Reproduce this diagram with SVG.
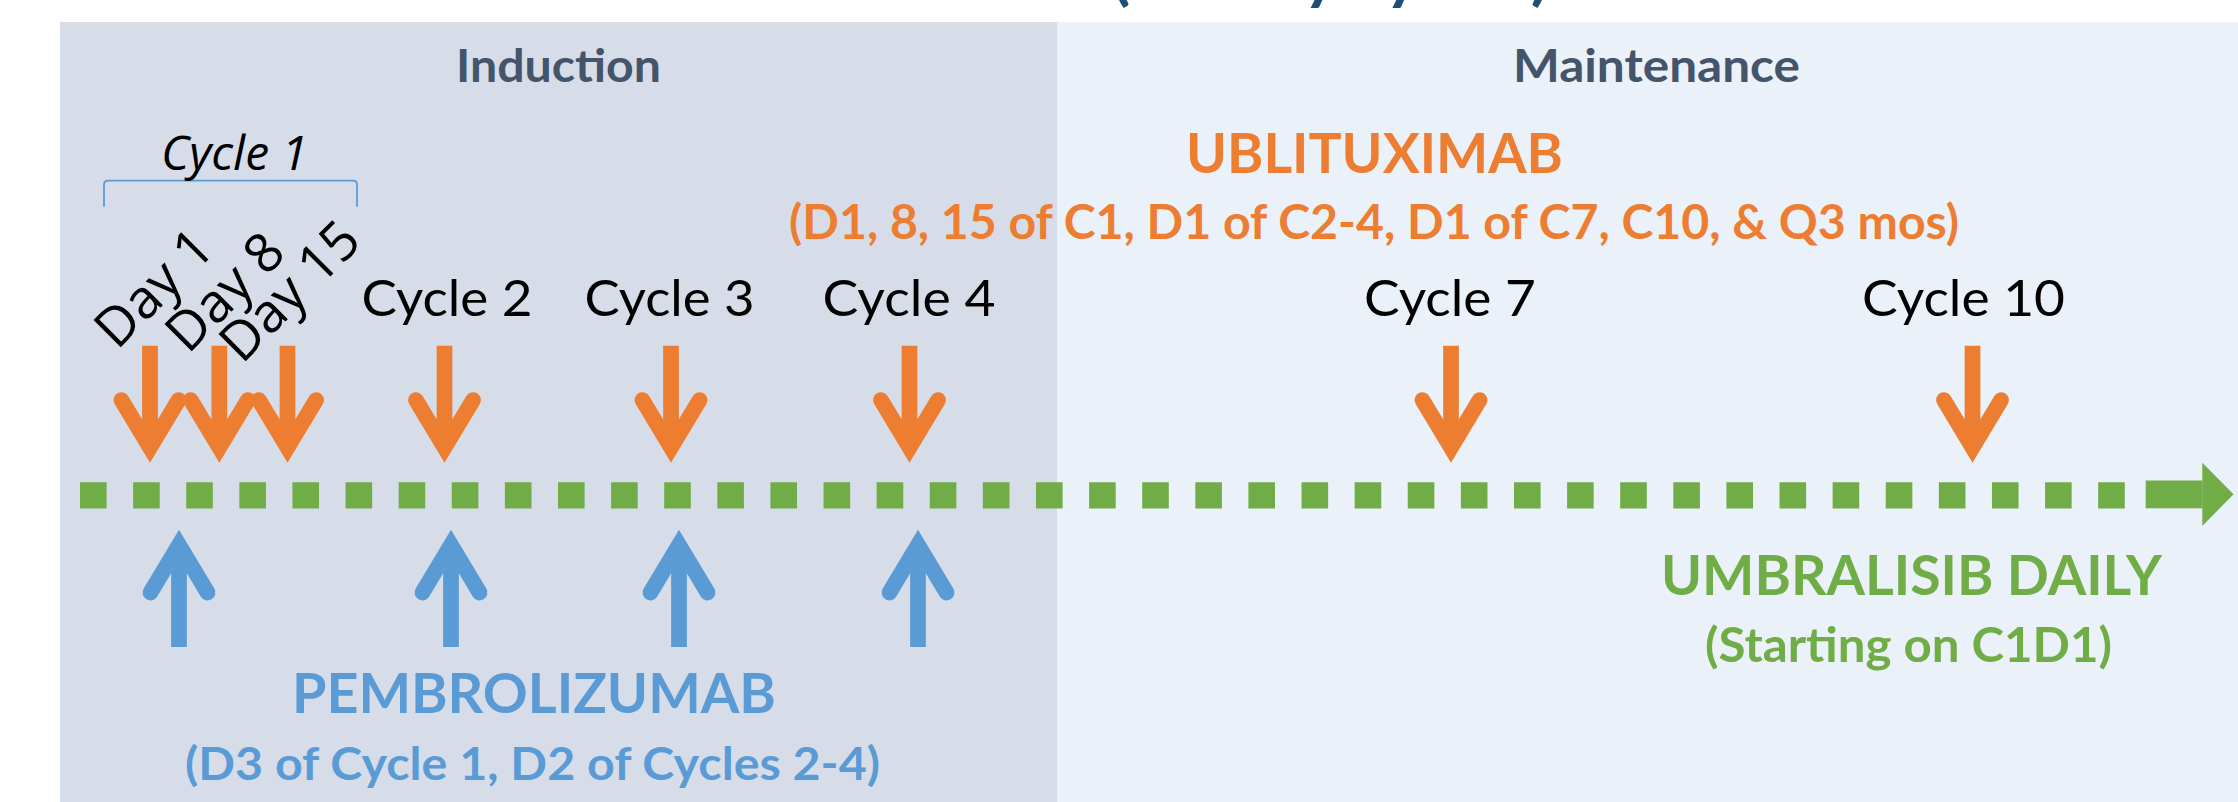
<svg xmlns="http://www.w3.org/2000/svg" xmlns:xlink="http://www.w3.org/1999/xlink" width="2238" height="802" viewBox="0 0 2238 802">
<style>
.lato{font-family:Lato,"Liberation Sans",sans-serif}
.os{font-family:"Open Sans","Liberation Sans",sans-serif}
.b{font-weight:bold}
.phase{font-size:45px;fill:#44546A;font-weight:bold}
.cyc{font-size:51px;fill:#000}
.day{font-size:54px;fill:#000}
.or{fill:#ED7D31}
.bl{fill:#5B9BD5}
.gr{fill:#70AD47}
.arrowOr{stroke:#ED7D31;stroke-width:15.7;fill:none}
.arrowBl{stroke:#5B9BD5;stroke-width:15.7;fill:none}
</style>
<defs>
<g id="arw">
<line x1="0" y1="-117.6" x2="0" y2="-15.7" stroke-linecap="butt"/>
<polyline points="-28.6,-63.3 0,-15.7 28.6,-63.3" stroke-linecap="round" stroke-linejoin="miter" stroke-miterlimit="4"/>
</g>
</defs>
<rect x="0" y="0" width="2238" height="802" fill="#FFFFFF"/>
<g id="panel-induction">
<rect x="60" y="22" width="997" height="780" fill="#D6DDE9"/>
<text class="lato phase" x="456" y="81.7" textLength="205" lengthAdjust="spacingAndGlyphs">Induction</text>
</g>
<g id="panel-maintenance">
<rect x="1057" y="22" width="1181" height="780" fill="#EAF1F9"/>
<text class="lato phase" x="1513" y="81.7" textLength="287" lengthAdjust="spacingAndGlyphs">Maintenance</text>
</g>
<g id="title-fragment">
<text class="lato b" x="1112" y="-2" font-size="64" fill="#1F4E79" textLength="437" lengthAdjust="spacingAndGlyphs">(28-day cycles)</text>
</g>
<g id="cycle1-bracket">
<path d="M104,206.7 V184.7 Q104,180.7 108,180.7 H353 Q357,180.7 357,184.7 V206.7" fill="none" stroke="#5B9BD5" stroke-width="1.8"/>
<text class="os" x="161" y="170" font-size="48" font-style="italic" fill="#000" textLength="147" lengthAdjust="spacingAndGlyphs">Cycle 1</text>
</g>
<g id="day-labels">
<text class="os day" transform="translate(117,351) rotate(-45)">Day 1</text>
<text class="os day" transform="translate(188,355) rotate(-45)">Day 8</text>
<text class="os day" transform="translate(242,365) rotate(-45)">Day 15</text>
</g>
<g id="cycle-labels">
<text class="lato cyc" x="361.5" y="316" textLength="171" lengthAdjust="spacingAndGlyphs">Cycle 2</text>
<text class="lato cyc" x="584.5" y="316" textLength="170" lengthAdjust="spacingAndGlyphs">Cycle 3</text>
<text class="lato cyc" x="822.5" y="316" textLength="173" lengthAdjust="spacingAndGlyphs">Cycle 4</text>
<text class="lato cyc" x="1364" y="316" textLength="172" lengthAdjust="spacingAndGlyphs">Cycle 7</text>
<text class="lato cyc" x="1862" y="316" textLength="203" lengthAdjust="spacingAndGlyphs">Cycle 10</text>
</g>
<g id="ublituximab">
<text class="lato b or" x="1186" y="172.7" font-size="55" textLength="377" lengthAdjust="spacingAndGlyphs">UBLITUXIMAB</text>
<text class="lato b or" x="789" y="239.3" font-size="47.5" textLength="1170" lengthAdjust="spacingAndGlyphs">(D1, 8, 15 of C1, D1 of C2-4, D1 of C7, C10, &amp; Q3 mos)</text>
</g>
<g id="pembrolizumab">
<text class="lato b bl" x="292" y="713.3" font-size="55" textLength="484" lengthAdjust="spacingAndGlyphs">PEMBROLIZUMAB</text>
<text class="lato b bl" x="185" y="780" font-size="46" textLength="695" lengthAdjust="spacingAndGlyphs">(D3 of Cycle 1, D2 of Cycles 2-4)</text>
</g>
<g id="umbralisib">
<text class="lato b gr" x="1661" y="595" font-size="56" textLength="501" lengthAdjust="spacingAndGlyphs">UMBRALISIB DAILY</text>
<text class="lato b gr" x="1705" y="662.3" font-size="47.5" textLength="407" lengthAdjust="spacingAndGlyphs">(Starting on C1D1)</text>
</g>
<g id="connectors">
<g id="umbralisib-timeline">
<line x1="80" y1="495.4" x2="2125" y2="495.4" stroke="#70AD47" stroke-width="26.4" stroke-dasharray="26.6 26.51"/>
<rect x="2145.7" y="480.5" width="56.8" height="27.8" fill="#70AD47"/>
<polygon points="2202.3,462.7 2233.5,494.3 2202.3,525.9" fill="#70AD47"/>
</g>
<g id="ublituximab-arrows" class="arrowOr">
<use xlink:href="#arw" transform="translate(150,463.3)"/>
<use xlink:href="#arw" transform="translate(219.3,463.3)"/>
<use xlink:href="#arw" transform="translate(287.5,463.3)"/>
<use xlink:href="#arw" transform="translate(444.5,463.3)"/>
<use xlink:href="#arw" transform="translate(671,463.3)"/>
<use xlink:href="#arw" transform="translate(909.5,463.3)"/>
<use xlink:href="#arw" transform="translate(1451,463.3)"/>
<use xlink:href="#arw" transform="translate(1972.5,463.3)"/>
</g>
<g id="pembrolizumab-arrows" class="arrowBl">
<use xlink:href="#arw" transform="translate(179,529.3) scale(1,-1)"/>
<use xlink:href="#arw" transform="translate(451,529.3) scale(1,-1)"/>
<use xlink:href="#arw" transform="translate(679,529.3) scale(1,-1)"/>
<use xlink:href="#arw" transform="translate(918,529.3) scale(1,-1)"/>
</g>
</g>
</svg>
